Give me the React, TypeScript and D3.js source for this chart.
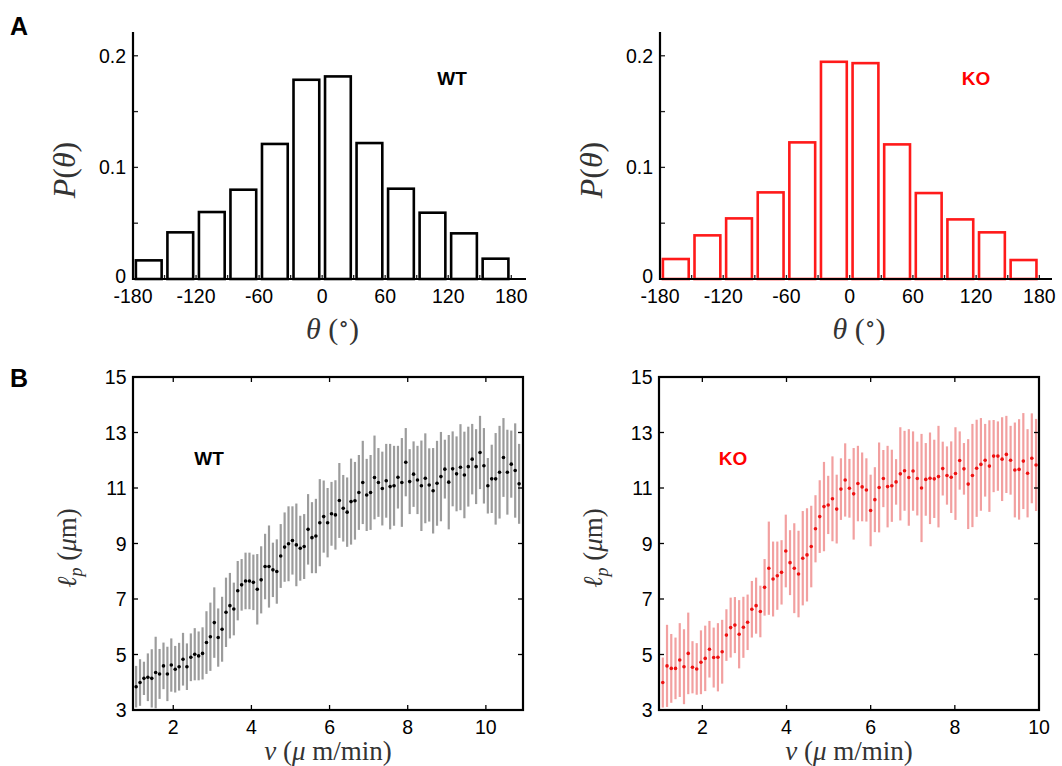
import React from "react";
import * as d3 from "d3";

const W = 1062;
const H = 766;

// ---- panel A: angle histograms ----
const binCenters = [-165, -135, -105, -75, -45, -15, 15, 45, 75, 105, 135, 165];
const wtHist = [0.0167, 0.0418, 0.06, 0.08, 0.121, 0.1785, 0.1815, 0.1218, 0.0809, 0.0594, 0.0409, 0.0182];
const koHist = [0.0179, 0.0391, 0.0543, 0.0776, 0.1224, 0.1946, 0.1934, 0.1206, 0.077, 0.0534, 0.0418, 0.017];
const histXTicks = [-180, -150, -120, -90, -60, -30, 0, 30, 60, 90, 120, 150, 180];
const histXLabels = [-180, -120, -60, 0, 60, 120, 180];
const histYTicks = [0, 0.05, 0.1, 0.15, 0.2];
const histYLabels = [0, 0.1, 0.2];

// ---- panel B: persistence length vs speed ----
const wtMean = [
  3.84, 3.99, 4.14, 4.18, 4.14, 4.35, 4.3, 4.59, 4.3, 4.62, 4.47, 4.56, 4.83, 4.56, 4.9, 5.01, 4.95, 5.04,
  5.43, 5.64, 6.15, 5.61, 5.91, 6.52, 6.76, 6.64, 7.3, 7.51, 7.65, 7.65, 7.6, 7.35, 7.69, 8.17, 8.17, 8.05,
  7.99, 8.55, 8.87, 8.99, 9.11, 8.95, 8.83, 8.89, 9.51, 9.21, 9.27, 9.75,
  9.97, 9.75, 10.07, 10.03, 10.55, 10.27, 10.13, 10.51, 10.54, 10.84, 11.2, 10.75, 10.84, 11.38, 11.2, 10.98,
  11.26, 11.05, 11.08, 11.39, 11.2, 11.93, 11.23, 11.5, 11.29, 11.08, 11.35, 11.11, 10.9, 11.17, 11.41, 11.68,
  11.21, 11.69, 11.51, 11.75, 11.47, 11.77, 12.04, 11.77, 12.28, 11.8, 11.08, 11.33, 11.33, 11.57, 12.1, 11.57,
  11.86, 11.63, 11.15,
];
const wtErr = [
  0.75, 0.84, 0.6, 0.86, 1.05, 1.29, 0.9, 0.84, 0.98, 0.96, 0.84, 0.86, 0.95, 0.84, 0.86, 0.94, 0.88, 0.94,
  1.13, 1.23, 1.27, 1.05, 1.17, 1.25, 1.18, 0.95, 1.07, 0.93, 1.02, 1.02, 1.0, 1.27, 1.21, 1.18, 1.48, 0.98,
  1.16, 1.15, 1.25, 1.35, 1.23, 1.49, 1.17, 1.17, 1.27, 1.28, 1.34, 1.57,
  1.3, 1.25, 1.15, 1.25, 1.35, 1.2, 1.25, 1.55, 1.4, 1.35, 1.5, 1.3, 1.35,
  1.51, 1.24, 1.33, 1.33, 1.54, 1.44, 1.13, 1.6, 1.23, 1.17, 1.18, 1.23, 1.63, 1.62, 1.32, 1.54, 1.53, 1.61,
  1.06, 1.7, 1.35, 1.35, 1.55, 1.56, 1.44, 1.27, 1.35, 1.32, 1.36, 1.0, 1.23, 1.65, 1.67, 1.42, 1.53, 1.21,
  1.7, 1.44,
];
const koMean = [
  3.99, 4.59, 4.5, 4.5, 4.8, 4.56, 5.04, 4.54, 4.48, 4.72, 4.86, 5.19, 4.89, 4.9, 5.1, 5.7, 5.97, 6.06, 5.73,
  5.98, 6.16, 6.63, 6.76, 6.55, 7.42, 8.11, 7.72, 7.84, 7.96, 8.73, 8.31, 8.11, 7.9, 8.47, 8.59, 8.89, 9.53,
  9.97, 10.33, 10.39, 10.61, 10.24, 10.96, 11.29, 10.99, 10.79, 11.16, 11.04, 10.93, 10.19, 10.58, 11.02,
  11.34, 11.05, 11.08, 11.22, 11.51, 11.62, 11.38, 11.61, 11.34, 11.0, 11.31, 11.35, 11.33, 11.41, 11.7,
  11.45, 11.39, 11.52, 11.99, 11.69, 11.14, 11.45, 11.71, 11.85, 12.0, 11.79, 12.15, 12.15, 12.04, 12.21,
  12.0, 11.65, 11.67, 11.97, 11.53, 12.07, 11.83,
];
const koErr = [
  0.9, 1.48, 1.24, 1.11, 1.33, 1.35, 1.47, 0.94, 0.93, 1.15, 1.18, 1.02, 1.08, 1.23, 1.15, 0.93, 1.08, 1.01,
  1.23, 1.1, 1.0, 1.02, 1.01, 0.93, 1.02, 1.68, 1.35, 1.23, 1.16, 1.31, 1.17, 1.62, 1.56, 1.7, 1.68, 1.47,
  1.21, 1.31, 1.61, 1.05, 1.53, 1.24, 1.11, 1.32, 1.06,
  1.65, 1.36, 1.24, 1.14, 1.29, 1.17, 1.62, 1.03, 1.47, 1.3, 0.82, 1.68, 1.44, 1.74, 1.43, 1.33, 1.95, 1.31,
  1.65, 1.41, 1.83, 0.97, 1.05, 1.29, 1.67, 1.05, 0.93, 1.62, 1.86, 1.75, 1.67, 1.31, 1.65, 1.3, 1.25, 1.51,
  1.39, 1.24, 1.71, 1.81, 1.73, 1.59, 1.62, 1.66,
];
// speed bins: first and last bin centre (µm/min)
const wtSpeedRange = [1.05, 10.85];
const koSpeedRange = [1.06, 9.93];
const lpTicks = [3, 5, 7, 9, 11, 13, 15];
const vTicks = [2, 4, 6, 8, 10];

const SANS = "'Liberation Sans', Arial, Helvetica, sans-serif";
const SERIF = "'Liberation Serif', 'DejaVu Serif', serif";
const TICK_FS = 19.5;

function Histogram({ left, right, xMax, values, color, tag, tagX }) {
  const x = d3.scaleLinear().domain([-180, xMax]).range([left, right]);
  const y = d3.scaleLinear().domain([0, 0.2213]).range([279, 32]);
  const half = 12.25;

  return (
    <g>
      {/* bars */}
      {values.map((v, i) => (
        <rect
          key={i}
          x={x(binCenters[i] - half)}
          y={y(v)}
          width={x(binCenters[i] + half) - x(binCenters[i] - half)}
          height={y(0) - y(v)}
          fill="white"
          stroke={color}
          strokeWidth={2.6}
        />
      ))}

      {/* ticks */}
      {histXTicks.map((t) => (
        <line key={t} x1={x(t)} x2={x(t)} y1={y(0)} y2={y(0) - 4} stroke="#222" strokeWidth={1.3} />
      ))}
      {histYTicks.map((t) => (
        <line key={t} x1={left} x2={left + 5} y1={y(t)} y2={y(t)} stroke="#222" strokeWidth={1.3} />
      ))}

      {/* axes */}
      <path
        d={`M${left},${y.range()[1]}V${y(0)}H${right}`}
        fill="none"
        stroke="black"
        strokeWidth={2.2}
      />

      {/* tick labels */}
      {histXLabels.map((t) => (
        <text key={t} x={x(t)} y={303} textAnchor="middle" fontFamily={SANS} fontSize={TICK_FS}>
          {t}
        </text>
      ))}
      {histYLabels.map((t) => (
        <text
          key={t}
          x={left - 7}
          y={y(t)}
          dy={t === 0 ? "0.2em" : "0.36em"}
          textAnchor="end"
          fontFamily={SANS}
          fontSize={TICK_FS}
        >
          {t}
        </text>
      ))}

      {/* axis titles */}
      <text
        transform={`translate(${left - 58},170) rotate(-90)`}
        textAnchor="middle"
        fontFamily={SERIF}
        fontSize={32}
        fill="#333"
      >
        <tspan fontStyle="italic">P</tspan>(<tspan fontStyle="italic">θ</tspan>)
      </text>
      <text
        x={(left + right) / 2 + 3}
        y={339}
        textAnchor="middle"
        fontFamily={SERIF}
        fontSize={30}
        fill="#333"
      >
        <tspan fontStyle="italic">θ</tspan> (<tspan dy={-8} fontSize={22}>∘</tspan>
        <tspan dy={8}>)</tspan>
      </text>

      <text
        x={tagX}
        y={85}
        textAnchor="middle"
        fontFamily={SANS}
        fontWeight="bold"
        fontSize={19}
        fill={tag === "KO" ? "#ff0000" : "black"}
      >
        {tag}
      </text>
    </g>
  );
}

function SpeedPlot({ left, right, xMax, means, errs, range, barColor, dotColor, tag, tagX, clipId }) {
  const x = d3.scaleLinear().domain([0.97, xMax]).range([left, right]);
  const y = d3.scaleLinear().domain([3, 15]).range([710, 377]);
  const step = (range[1] - range[0]) / (means.length - 1);
  const pts = means.map((m, i) => ({ v: range[0] + i * step, m, e: errs[i] }));
  const top = y(15);
  const bottom = y(3);

  return (
    <g>
      <defs>
        <clipPath id={clipId}>
          <rect x={left} y={top} width={right - left} height={bottom - top} />
        </clipPath>
      </defs>

      <g clipPath={`url(#${clipId})`}>
        {pts.map((p, i) => (
          <line
            key={i}
            x1={x(p.v)}
            x2={x(p.v)}
            y1={y(p.m - p.e)}
            y2={y(p.m + p.e)}
            stroke={barColor}
            strokeWidth={2.2}
          />
        ))}
        {pts.map((p, i) => (
          <circle key={i} cx={x(p.v)} cy={y(p.m)} r={1.8} fill={dotColor} />
        ))}
      </g>

      {/* ticks, inward on all sides */}
      {vTicks.map((t) => (
        <g key={t}>
          <line x1={x(t)} x2={x(t)} y1={bottom} y2={bottom - 5} stroke="black" strokeWidth={1.3} />
          <line x1={x(t)} x2={x(t)} y1={top} y2={top + 5} stroke="black" strokeWidth={1.3} />
        </g>
      ))}
      {lpTicks.map((t) => (
        <g key={t}>
          <line x1={left} x2={left + 5} y1={y(t)} y2={y(t)} stroke="black" strokeWidth={1.3} />
          <line x1={right} x2={right - 5} y1={y(t)} y2={y(t)} stroke="black" strokeWidth={1.3} />
        </g>
      ))}

      <rect
        x={left}
        y={top}
        width={right - left}
        height={bottom - top}
        fill="none"
        stroke="black"
        strokeWidth={2.2}
      />

      {vTicks.map((t) => (
        <text key={t} x={x(t)} y={734} textAnchor="middle" fontFamily={SANS} fontSize={TICK_FS}>
          {t}
        </text>
      ))}
      {lpTicks.map((t) => (
        <text
          key={t}
          x={left - 6.5}
          y={y(t)}
          dy="0.36em"
          textAnchor="end"
          fontFamily={SANS}
          fontSize={TICK_FS}
        >
          {t}
        </text>
      ))}

      <text
        transform={`translate(${left - 57},548) rotate(-90)`}
        textAnchor="middle"
        fontFamily={SERIF}
        fontSize={27}
        fill="#333"
      >
        <tspan fontStyle="italic">ℓ</tspan>
        <tspan fontStyle="italic" fontSize={18} dy={6}>p</tspan>
        <tspan dy={-6}> (</tspan>
        <tspan fontStyle="italic">μ</tspan>m)
      </text>
      <text
        x={(left + right) / 2}
        y={760}
        textAnchor="middle"
        fontFamily={SERIF}
        fontSize={27}
        fill="#333"
      >
        <tspan fontStyle="italic">v</tspan> (<tspan fontStyle="italic">μ</tspan> m/min)
      </text>

      <text
        x={tagX}
        y={465}
        textAnchor="middle"
        fontFamily={SANS}
        fontWeight="bold"
        fontSize={19}
        fill={tag === "KO" ? "#ff0000" : "black"}
      >
        {tag}
      </text>
    </g>
  );
}

export default function App() {
  return (
    <div style={{ position: "absolute", left: 0, top: 0 }}>
      <svg width={W} height={H} viewBox={`0 0 ${W} ${H}`} style={{ display: "block", background: "white" }}>
        <text x={10} y={35} fontFamily={SANS} fontWeight="bold" fontSize={25}>A</text>
        <text x={10} y={387} fontFamily={SANS} fontWeight="bold" fontSize={25}>B</text>

        <Histogram left={133} right={526} xMax={194} values={wtHist} color="black" tag="WT" tagX={452} />
        <Histogram left={660} right={1052} xMax={192} values={koHist} color="#ff1a1a" tag="KO" tagX={976} />

        <SpeedPlot
          left={133}
          right={523}
          xMax={10.95}
          means={wtMean}
          errs={wtErr}
          range={wtSpeedRange}
          barColor="#9c9c9c"
          dotColor="black"
          tag="WT"
          tagX={209}
          clipId="clipWT"
        />
        <SpeedPlot
          left={659}
          right={1039}
          xMax={10}
          means={koMean}
          errs={koErr}
          range={koSpeedRange}
          barColor="#f2a0a0"
          dotColor="#ee1111"
          tag="KO"
          tagX={733}
          clipId="clipKO"
        />
      </svg>
    </div>
  );
}
